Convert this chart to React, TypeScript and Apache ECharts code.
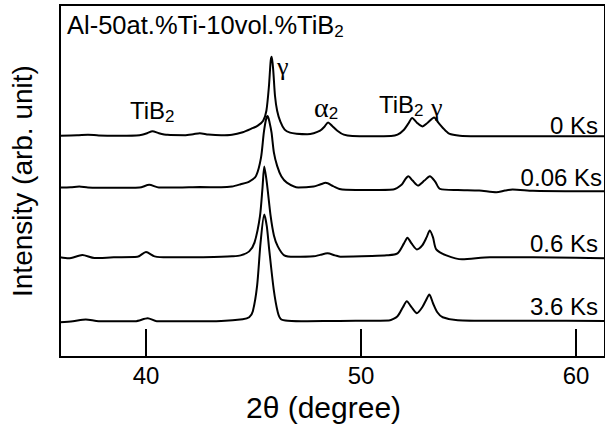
import React, { useEffect, useRef } from "react";
import * as echarts from "echarts";

// 2θ ticks
const xTicks = [40, 50, 60];

// Vertical offsets (stacking) of each pattern, in plot units
const sampleNames = ["0 Ks", "0.06 Ks", "0.6 Ks", "3.6 Ks"];
const offsets = [222, 170, 100, 36];

// 0 Ks
const theta0 = [36.0, 36.8, 37.3, 37.8, 38.8, 39.7, 40.05, 40.3, 40.6, 41.0, 41.8, 42.2, 42.5, 42.9, 43.5, 44.0, 44.5, 44.9, 45.2, 45.45, 45.6, 45.72, 45.8, 45.85, 45.92, 46.0, 46.1, 46.25, 46.45, 46.7, 47.0, 47.5, 47.8, 48.1, 48.3, 48.47, 48.65, 48.9, 49.2, 49.6, 50.5, 51.4, 51.7, 52.0, 52.2, 52.38, 52.6, 52.85, 53.1, 53.4, 53.6, 53.8, 54.1, 54.6, 55.5, 57.0, 58.5, 60.0, 61.35];
const int0 = [0, 0.3, 1, 0.2, 0, 0.5, 2.5, 4.5, 2.5, 0.8, 0.5, 1.5, 2.5, 1.2, 0.5, 1, 3.5, 7, 10, 15, 25, 50, 75, 79, 65, 40, 25, 14, 6, 3, 2, 1.5, 2.5, 5, 9, 13.3, 10, 5, 1, -0.3, -0.5, -0.3, 1, 6, 12, 17.7, 13, 9.3, 13, 18.3, 13, 8, 2, 0, -0.5, -0.7, -0.7, -0.7, -0.7];

// 0.06 Ks
const theta006 = [36.0, 36.5, 36.9, 37.3, 38.5, 39.7, 40.15, 40.6, 41.5, 42.5, 43.5, 44.0, 44.4, 44.8, 45.12, 45.35, 45.48, 45.58, 45.66, 45.75, 45.84, 45.95, 46.1, 46.3, 46.55, 47.08, 47.8, 48.1, 48.36, 48.7, 49.0, 49.3, 50.5, 51.5, 51.9, 52.05, 52.2, 52.4, 52.65, 52.95, 53.2, 53.45, 53.67, 54.5, 55.5, 56.3, 56.7, 57.05, 58.0, 59.5, 61.35];
const int006 = [0, 0.3, 1, 0, -0.3, 0, 2.7, 0, 0, 0.5, 0.3, 1, 3.3, 6, 11.7, 30, 55, 68, 71.7, 65, 55, 35, 21.7, 11, 5, 0, 1, 3, 4.7, 1.5, -1.5, -2.3, -2.5, -2, 3, 8, 11.3, 7, 2, 7, 11.3, 6, -1.3, -2.5, -3, -4.7, -3, -2, -3.3, -3.7, -3.7];

// 0.6 Ks
const theta06 = [36.0, 36.4, 37.04, 37.6, 38.5, 39.6, 40.0, 40.4, 41.0, 42.5, 43.5, 44.0, 44.4, 44.8, 45.05, 45.3, 45.42, 45.5, 45.62, 45.8, 45.95, 46.13, 46.43, 46.9, 47.8, 48.1, 48.44, 48.8, 49.05, 50.5, 51.2, 51.7, 52.0, 52.16, 52.35, 52.6, 52.85, 53.05, 53.2, 53.35, 53.5, 53.97, 54.7, 56.0, 58.0, 60.0, 61.35];
const int06 = [0, -1, 2.3, -0.7, 0, 0.5, 5.3, 1, 0, 0, 0.5, 1, 2, 6, 15, 41, 70, 91, 75, 41, 22, 11, 2, 0.5, 1, 2.5, 4, 2, 0.7, 1.3, 2, 4, 14, 19.7, 14, 8, 12, 20, 27, 20, 8, 2, -2, 0, 0, -0.5, -1];

// 3.6 Ks
const theta36 = [36.0, 36.6, 37.2, 37.8, 39.5, 40.08, 40.5, 42.0, 43.5, 44.5, 44.8, 44.97, 45.17, 45.33, 45.5, 45.62, 45.73, 45.94, 46.13, 46.28, 46.6, 47.5, 49.0, 50.5, 51.3, 51.7, 51.95, 52.13, 52.35, 52.6, 52.85, 53.0, 53.18, 53.35, 53.55, 53.8, 54.5, 56.0, 58.0, 61.35];
const int36 = [-1, 0, 1.7, 0, 0, 3, 0, 0, 0.3, 2, 4, 10, 36, 79, 107, 95, 72, 32, 9, 2, 0.5, 0, 0.3, 0.5, 0.7, 5, 14, 20, 14, 8, 14, 20, 26.7, 18, 9, 4, 1, 0.5, 0.5, 0.3];

const thetas = [theta0, theta006, theta06, theta36];
const intensities = [int0, int006, int06, int36];

const FONT = "'Liberation Sans', Arial, Helvetica, sans-serif";
const SERIF = "'Liberation Serif', 'Times New Roman', serif";

export default function App() {
  const ref = useRef<HTMLDivElement>(null);
  useEffect(() => {
    if (!ref.current) return;
    const chart = echarts.init(ref.current, undefined, { renderer: "svg" });
    const series = sampleNames.map((name, i) => ({
      name,
      type: "line",
      data: thetas[i].map((t, k) => [t, offsets[i] + intensities[i][k]]),
      showSymbol: false,
      smooth: 0.25,
      lineStyle: { color: "#000", width: 2 },
      z: 3,
    }));
    const sub = { fontSize: 17, fontFamily: FONT, fill: "#000", padding: [12, 0, 0, 0] };
    const labelY = [125, 177, 243, 306];
    const labelX = [598, 602, 598, 598];
    const option: any = {
      animation: false,
      grid: {
        left: 57.5,
        right: -2,
        top: 5,
        bottom: 69,
        show: true,
        borderColor: "#000",
        borderWidth: 2,
      },
      xAxis: {
        type: "value",
        min: 36,
        max: 61.35,
        axisLine: { show: false },
        splitLine: { show: false },
        axisTick: {
          show: true,
          inside: true,
          length: 28,
          lineStyle: { color: "#000", width: 2 },
          customValues: xTicks,
        },
        axisLabel: {
          customValues: xTicks,
          color: "#000",
          fontSize: 24,
          fontFamily: FONT,
          margin: 6,
        },
        name: "2θ (degree)",
        nameLocation: "middle",
        nameGap: 29,
        nameTextStyle: { color: "#000", fontSize: 30, fontFamily: FONT, padding: [0, 18, 0, 0] },
      },
      yAxis: {
        type: "value",
        min: 0,
        max: 353,
        axisLine: { show: false },
        axisTick: { show: false },
        axisLabel: { show: false },
        splitLine: { show: false },
        name: "Intensity (arb. unit)",
        nameLocation: "middle",
        nameGap: 24,
        nameTextStyle: { color: "#000", fontSize: 28, fontFamily: FONT },
      },
      series,
      graphic: [
        {
          type: "text",
          x: 67,
          y: 25,
          style: {
            text: "Al-50at.%Ti-10vol.%TiB{s|2}",
            font: `25.5px ${FONT}`,
            fill: "#000",
            verticalAlign: "middle",
            align: "left",
            rich: { s: sub },
          },
        },
        {
          type: "text",
          x: 130,
          y: 110,
          style: {
            text: "TiB{s|2}",
            font: `24px ${FONT}`,
            fill: "#000",
            verticalAlign: "middle",
            align: "left",
            rich: { s: sub },
          },
        },
        {
          type: "text",
          x: 277,
          y: 66,
          style: { text: "γ", font: `26px ${SERIF}`, fill: "#000", verticalAlign: "middle", align: "left" },
        },
        {
          type: "text",
          x: 314,
          y: 107,
          style: {
            text: "α{s|2}",
            font: `28px ${SERIF}`,
            fill: "#000",
            verticalAlign: "middle",
            align: "left",
            rich: { s: sub },
          },
        },
        {
          type: "text",
          x: 379,
          y: 104,
          style: {
            text: "TiB{s|2}",
            font: `24px ${FONT}`,
            fill: "#000",
            verticalAlign: "middle",
            align: "left",
            rich: { s: sub },
          },
        },
        {
          type: "text",
          x: 431,
          y: 107,
          style: { text: "γ", font: `26px ${SERIF}`, fill: "#000", verticalAlign: "middle", align: "left" },
        },
        ...sampleNames.map((n, i) => ({
          type: "text",
          x: labelX[i],
          y: labelY[i],
          style: { text: n, font: `24px ${FONT}`, fill: "#000", verticalAlign: "middle", align: "right" },
        })),
      ],
    };
    chart.setOption(option);
    return () => chart.dispose();
  }, []);
  return (
    <div
      ref={ref}
      style={{ position: "fixed", left: 0, top: 0, width: 605, height: 427, background: "#fff" }}
    />
  );
}
